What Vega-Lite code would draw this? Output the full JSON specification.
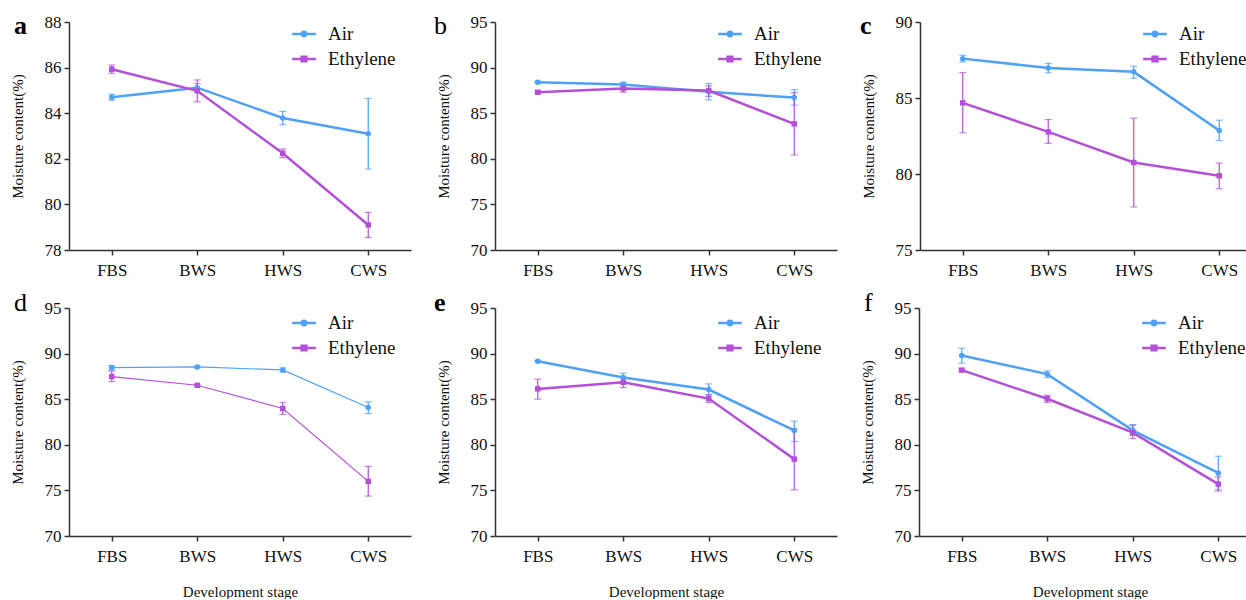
{
"$schema": "https://vega.github.io/schema/vega-lite/v6.json",
"padding": {"left": 10, "top": 13, "right": 0, "bottom": 0},
"config": {
 "font": "Liberation Serif",
 "view": {"stroke": null},
 "axis": {"domainColor": "#333", "domainWidth": 1.5, "tickColor": "#333", "tickWidth": 1.5, "tickSize": 5, "labelFontSize": 17, "labelColor": "#111", "labelFont": "Liberation Serif", "titleFont": "Liberation Serif", "titleFontSize": 15, "titleFontWeight": "normal", "titleColor": "#111", "grid": false},
 "axisY": {"labelPadding": 3, "titlePadding": 19},
 "axisX": {"labelPadding": 7, "titlePadding": 20, "labelAngle": 0},
 "legend": {"labelFont": "Liberation Serif", "labelFontSize": 19, "labelColor": "#111", "symbolSize": 462, "labelOffset": 12, "rowPadding": 3, "padding": 0, "orient": "none", "legendX": 223},
 "title": {"font": "Liberation Serif", "fontSize": 26, "anchor": "start", "frame": "group", "align": "left", "baseline": "alphabetic", "offset": 0, "color": "#000"}
},
"data": {"values": [
{"p":"a","s":"Air","stage":"FBS","m":84.70,"lo":84.57,"hi":84.83},
{"p":"a","s":"Air","stage":"BWS","m":85.12,"lo":84.95,"hi":85.30},
{"p":"a","s":"Air","stage":"HWS","m":83.79,"lo":83.50,"hi":84.08},
{"p":"a","s":"Air","stage":"CWS","m":83.10,"lo":81.55,"hi":84.65},
{"p":"a","s":"Ethylene","stage":"FBS","m":85.93,"lo":85.75,"hi":86.11},
{"p":"a","s":"Ethylene","stage":"BWS","m":84.98,"lo":84.50,"hi":85.46},
{"p":"a","s":"Ethylene","stage":"HWS","m":82.24,"lo":82.05,"hi":82.43},
{"p":"a","s":"Ethylene","stage":"CWS","m":79.10,"lo":78.55,"hi":79.65},
{"p":"b","s":"Air","stage":"FBS","m":88.39,"lo":88.29,"hi":88.49},
{"p":"b","s":"Air","stage":"BWS","m":88.14,"lo":87.87,"hi":88.41},
{"p":"b","s":"Air","stage":"HWS","m":87.34,"lo":86.45,"hi":88.25},
{"p":"b","s":"Air","stage":"CWS","m":86.72,"lo":85.88,"hi":87.59},
{"p":"b","s":"Ethylene","stage":"FBS","m":87.30,"lo":87.15,"hi":87.45},
{"p":"b","s":"Ethylene","stage":"BWS","m":87.70,"lo":87.30,"hi":88.10},
{"p":"b","s":"Ethylene","stage":"HWS","m":87.48,"lo":86.85,"hi":88.00},
{"p":"b","s":"Ethylene","stage":"CWS","m":83.83,"lo":80.42,"hi":87.25},
{"p":"c","s":"Air","stage":"FBS","m":87.59,"lo":87.37,"hi":87.81},
{"p":"c","s":"Air","stage":"BWS","m":86.98,"lo":86.65,"hi":87.28},
{"p":"c","s":"Air","stage":"HWS","m":86.72,"lo":86.30,"hi":87.09},
{"p":"c","s":"Air","stage":"CWS","m":82.86,"lo":82.20,"hi":83.54},
{"p":"c","s":"Ethylene","stage":"FBS","m":84.68,"lo":82.71,"hi":86.67},
{"p":"c","s":"Ethylene","stage":"BWS","m":82.77,"lo":82.01,"hi":83.58},
{"p":"c","s":"Ethylene","stage":"HWS","m":80.76,"lo":77.83,"hi":83.67},
{"p":"c","s":"Ethylene","stage":"CWS","m":79.88,"lo":79.03,"hi":80.72},
{"p":"d","s":"Air","stage":"FBS","m":88.47,"lo":88.21,"hi":88.69},
{"p":"d","s":"Air","stage":"BWS","m":88.54,"lo":88.44,"hi":88.64},
{"p":"d","s":"Air","stage":"HWS","m":88.21,"lo":87.96,"hi":88.43},
{"p":"d","s":"Air","stage":"CWS","m":84.09,"lo":83.43,"hi":84.71},
{"p":"d","s":"Ethylene","stage":"FBS","m":87.48,"lo":86.93,"hi":88.10},
{"p":"d","s":"Ethylene","stage":"BWS","m":86.53,"lo":86.43,"hi":86.63},
{"p":"d","s":"Ethylene","stage":"HWS","m":83.98,"lo":83.32,"hi":84.64},
{"p":"d","s":"Ethylene","stage":"CWS","m":75.99,"lo":74.38,"hi":77.63},
{"p":"e","s":"Air","stage":"FBS","m":89.16,"lo":89.06,"hi":89.26},
{"p":"e","s":"Air","stage":"BWS","m":87.37,"lo":86.95,"hi":87.85},
{"p":"e","s":"Air","stage":"HWS","m":86.06,"lo":85.51,"hi":86.68},
{"p":"e","s":"Air","stage":"CWS","m":81.57,"lo":80.36,"hi":82.59},
{"p":"e","s":"Ethylene","stage":"FBS","m":86.13,"lo":85.00,"hi":87.19},
{"p":"e","s":"Ethylene","stage":"BWS","m":86.86,"lo":86.28,"hi":87.37},
{"p":"e","s":"Ethylene","stage":"HWS","m":85.07,"lo":84.64,"hi":85.47},
{"p":"e","s":"Ethylene","stage":"CWS","m":78.43,"lo":75.07,"hi":81.75},
{"p":"f","s":"Air","stage":"FBS","m":89.79,"lo":88.95,"hi":90.59},
{"p":"f","s":"Air","stage":"BWS","m":87.75,"lo":87.38,"hi":88.11},
{"p":"f","s":"Air","stage":"HWS","m":81.59,"lo":81.04,"hi":82.21},
{"p":"f","s":"Air","stage":"CWS","m":76.92,"lo":75.10,"hi":78.75},
{"p":"f","s":"Ethylene","stage":"FBS","m":88.19,"lo":88.04,"hi":88.34},
{"p":"f","s":"Ethylene","stage":"BWS","m":85.05,"lo":84.65,"hi":85.42},
{"p":"f","s":"Ethylene","stage":"HWS","m":81.33,"lo":80.68,"hi":82.14},
{"p":"f","s":"Ethylene","stage":"CWS","m":75.69,"lo":74.92,"hi":76.49}
]},
"resolve": {"scale": {"color": "independent"}, "legend": {"color": "independent"}},
"spacing": 12,
"vconcat": [
{"hconcat": [
 {"width": 342, "height": 228, "title": {"text": "a", "dx": -55, "dy": 30, "fontWeight": "bold"},
  "transform": [{"filter": "datum.p === 'a'"}],
  "encoding": {"x": {"field": "stage", "type": "ordinal", "title": null, "scale": {"type": "point", "padding": 0.5, "domain": ["FBS","BWS","HWS","CWS"]}}},
  "layer": [
   {"mark": {"type": "errorbar", "ticks": true, "size": 7, "thickness": 1.2}, "encoding": {"y": {"field": "lo", "type": "quantitative", "title": "Moisture content(%)", "scale": {"domain": [78, 88], "nice": false, "zero": false}, "axis": {"values": [78,80,82,84,86,88]}}, "y2": {"field": "hi"}, "color": {"field": "s", "type": "nominal", "scale": {"domain": ["Air","Ethylene"], "range": ["#4ea1f7","#b450d8"]}}}},
   {"mark": {"type": "line", "strokeWidth": 2.5}, "encoding": {"y": {"field": "m", "type": "quantitative", "title": "Moisture content(%)", "scale": {"domain": [78, 88], "nice": false, "zero": false}}, "color": {"field": "s", "type": "nominal", "scale": {"domain": ["Air","Ethylene"], "range": ["#4ea1f7","#b450d8"]}, "legend": {"title": null, "legendY": 0, "encode": {"labels": {"update": {"font": {"value": "Liberation Serif"}}}, "symbols": {"update": {"shape": {"signal": "datum.value === 'Air' ? 'M-1.1,0H1.1M-0.2,0A0.2,0.2,0,1,0,0.2,0A0.2,0.2,0,1,0,-0.2,0Z' : 'M-1.1,0H1.1M-0.22,-0.22H0.22V0.22H-0.22Z'"}, "fill": {"signal": "datum.value === 'Air' ? '#4ea1f7' : '#b450d8'"}, "stroke": {"signal": "datum.value === 'Air' ? '#4ea1f7' : '#b450d8'"}, "strokeWidth": {"value": 2.5}, "opacity": {"value": 1}}}}}}}},
   {"mark": {"type": "point", "filled": true, "opacity": 1, "size": 30}, "encoding": {"y": {"field": "m", "type": "quantitative", "title": "Moisture content(%)", "scale": {"domain": [78, 88], "nice": false, "zero": false}}, "color": {"field": "s", "type": "nominal", "scale": {"domain": ["Air","Ethylene"], "range": ["#4ea1f7","#b450d8"]}}, "shape": {"condition": {"test": "datum.s === 'Air'", "value": "circle"}, "value": "square"}}}
  ]},
 {"width": 342, "height": 228, "title": {"text": "b", "dx": -61, "dy": 30, "fontWeight": "normal"},
  "transform": [{"filter": "datum.p === 'b'"}],
  "encoding": {"x": {"field": "stage", "type": "ordinal", "title": null, "scale": {"type": "point", "padding": 0.5, "domain": ["FBS","BWS","HWS","CWS"]}}},
  "layer": [
   {"mark": {"type": "errorbar", "ticks": true, "size": 7, "thickness": 1.2}, "encoding": {"y": {"field": "lo", "type": "quantitative", "title": "Moisture content(%)", "scale": {"domain": [70, 95], "nice": false, "zero": false}, "axis": {"values": [70,75,80,85,90,95]}}, "y2": {"field": "hi"}, "color": {"field": "s", "type": "nominal", "scale": {"domain": ["Air","Ethylene"], "range": ["#4ea1f7","#b450d8"]}}}},
   {"mark": {"type": "line", "strokeWidth": 2.5}, "encoding": {"y": {"field": "m", "type": "quantitative", "title": "Moisture content(%)", "scale": {"domain": [70, 95], "nice": false, "zero": false}}, "color": {"field": "s", "type": "nominal", "scale": {"domain": ["Air","Ethylene"], "range": ["#4ea1f7","#b450d8"]}, "legend": {"title": null, "legendY": 0, "encode": {"labels": {"update": {"font": {"value": "Liberation Serif"}}}, "symbols": {"update": {"shape": {"signal": "datum.value === 'Air' ? 'M-1.1,0H1.1M-0.2,0A0.2,0.2,0,1,0,0.2,0A0.2,0.2,0,1,0,-0.2,0Z' : 'M-1.1,0H1.1M-0.22,-0.22H0.22V0.22H-0.22Z'"}, "fill": {"signal": "datum.value === 'Air' ? '#4ea1f7' : '#b450d8'"}, "stroke": {"signal": "datum.value === 'Air' ? '#4ea1f7' : '#b450d8'"}, "strokeWidth": {"value": 2.5}, "opacity": {"value": 1}}}}}}}},
   {"mark": {"type": "point", "filled": true, "opacity": 1, "size": 30}, "encoding": {"y": {"field": "m", "type": "quantitative", "title": "Moisture content(%)", "scale": {"domain": [70, 95], "nice": false, "zero": false}}, "color": {"field": "s", "type": "nominal", "scale": {"domain": ["Air","Ethylene"], "range": ["#4ea1f7","#b450d8"]}}, "shape": {"condition": {"test": "datum.s === 'Air'", "value": "circle"}, "value": "square"}}}
  ]},
 {"width": 342, "height": 228, "title": {"text": "c", "dx": -60, "dy": 30, "fontWeight": "bold"},
  "transform": [{"filter": "datum.p === 'c'"}],
  "encoding": {"x": {"field": "stage", "type": "ordinal", "title": null, "scale": {"type": "point", "padding": 0.5, "domain": ["FBS","BWS","HWS","CWS"]}}},
  "layer": [
   {"mark": {"type": "errorbar", "ticks": true, "size": 7, "thickness": 1.2}, "encoding": {"y": {"field": "lo", "type": "quantitative", "title": "Moisture content(%)", "scale": {"domain": [75, 90], "nice": false, "zero": false}, "axis": {"values": [75,80,85,90]}}, "y2": {"field": "hi"}, "color": {"field": "s", "type": "nominal", "scale": {"domain": ["Air","Ethylene"], "range": ["#4ea1f7","#b450d8"]}}}},
   {"mark": {"type": "line", "strokeWidth": 2.5}, "encoding": {"y": {"field": "m", "type": "quantitative", "title": "Moisture content(%)", "scale": {"domain": [75, 90], "nice": false, "zero": false}}, "color": {"field": "s", "type": "nominal", "scale": {"domain": ["Air","Ethylene"], "range": ["#4ea1f7","#b450d8"]}, "legend": {"title": null, "legendY": 0, "encode": {"labels": {"update": {"font": {"value": "Liberation Serif"}}}, "symbols": {"update": {"shape": {"signal": "datum.value === 'Air' ? 'M-1.1,0H1.1M-0.2,0A0.2,0.2,0,1,0,0.2,0A0.2,0.2,0,1,0,-0.2,0Z' : 'M-1.1,0H1.1M-0.22,-0.22H0.22V0.22H-0.22Z'"}, "fill": {"signal": "datum.value === 'Air' ? '#4ea1f7' : '#b450d8'"}, "stroke": {"signal": "datum.value === 'Air' ? '#4ea1f7' : '#b450d8'"}, "strokeWidth": {"value": 2.5}, "opacity": {"value": 1}}}}}}}},
   {"mark": {"type": "point", "filled": true, "opacity": 1, "size": 30}, "encoding": {"y": {"field": "m", "type": "quantitative", "title": "Moisture content(%)", "scale": {"domain": [75, 90], "nice": false, "zero": false}}, "color": {"field": "s", "type": "nominal", "scale": {"domain": ["Air","Ethylene"], "range": ["#4ea1f7","#b450d8"]}}, "shape": {"condition": {"test": "datum.s === 'Air'", "value": "circle"}, "value": "square"}}}
  ]}
], "spacing": 23, "resolve": {"scale": {"color": "independent"}, "legend": {"color": "independent"}}},
{"hconcat": [
 {"width": 342, "height": 228, "title": {"text": "d", "dx": -55, "dy": 21, "fontWeight": "normal"},
  "transform": [{"filter": "datum.p === 'd'"}],
  "encoding": {"x": {"field": "stage", "type": "ordinal", "title": "Development stage", "scale": {"type": "point", "padding": 0.5, "domain": ["FBS","BWS","HWS","CWS"]}}},
  "layer": [
   {"mark": {"type": "errorbar", "ticks": true, "size": 7, "thickness": 1.2}, "encoding": {"y": {"field": "lo", "type": "quantitative", "title": "Moisture content(%)", "scale": {"domain": [70, 95], "nice": false, "zero": false}, "axis": {"values": [70,75,80,85,90,95]}}, "y2": {"field": "hi"}, "color": {"field": "s", "type": "nominal", "scale": {"domain": ["Air","Ethylene"], "range": ["#4ea1f7","#b450d8"]}}}},
   {"mark": {"type": "line", "strokeWidth": 1.2}, "encoding": {"y": {"field": "m", "type": "quantitative", "title": "Moisture content(%)", "scale": {"domain": [70, 95], "nice": false, "zero": false}}, "color": {"field": "s", "type": "nominal", "scale": {"domain": ["Air","Ethylene"], "range": ["#4ea1f7","#b450d8"]}, "legend": {"title": null, "legendY": 3, "encode": {"labels": {"update": {"font": {"value": "Liberation Serif"}}}, "symbols": {"update": {"shape": {"signal": "datum.value === 'Air' ? 'M-1.1,0H1.1M-0.2,0A0.2,0.2,0,1,0,0.2,0A0.2,0.2,0,1,0,-0.2,0Z' : 'M-1.1,0H1.1M-0.22,-0.22H0.22V0.22H-0.22Z'"}, "fill": {"signal": "datum.value === 'Air' ? '#4ea1f7' : '#b450d8'"}, "stroke": {"signal": "datum.value === 'Air' ? '#4ea1f7' : '#b450d8'"}, "strokeWidth": {"value": 2.5}, "opacity": {"value": 1}}}}}}}},
   {"mark": {"type": "point", "filled": true, "opacity": 1, "size": 30}, "encoding": {"y": {"field": "m", "type": "quantitative", "title": "Moisture content(%)", "scale": {"domain": [70, 95], "nice": false, "zero": false}}, "color": {"field": "s", "type": "nominal", "scale": {"domain": ["Air","Ethylene"], "range": ["#4ea1f7","#b450d8"]}}, "shape": {"condition": {"test": "datum.s === 'Air'", "value": "circle"}, "value": "square"}}}
  ]},
 {"width": 342, "height": 228, "title": {"text": "e", "dx": -61, "dy": 21, "fontWeight": "bold"},
  "transform": [{"filter": "datum.p === 'e'"}],
  "encoding": {"x": {"field": "stage", "type": "ordinal", "title": "Development stage", "scale": {"type": "point", "padding": 0.5, "domain": ["FBS","BWS","HWS","CWS"]}}},
  "layer": [
   {"mark": {"type": "errorbar", "ticks": true, "size": 7, "thickness": 1.2}, "encoding": {"y": {"field": "lo", "type": "quantitative", "title": "Moisture content(%)", "scale": {"domain": [70, 95], "nice": false, "zero": false}, "axis": {"values": [70,75,80,85,90,95]}}, "y2": {"field": "hi"}, "color": {"field": "s", "type": "nominal", "scale": {"domain": ["Air","Ethylene"], "range": ["#4ea1f7","#b450d8"]}}}},
   {"mark": {"type": "line", "strokeWidth": 2.5}, "encoding": {"y": {"field": "m", "type": "quantitative", "title": "Moisture content(%)", "scale": {"domain": [70, 95], "nice": false, "zero": false}}, "color": {"field": "s", "type": "nominal", "scale": {"domain": ["Air","Ethylene"], "range": ["#4ea1f7","#b450d8"]}, "legend": {"title": null, "legendY": 3, "encode": {"labels": {"update": {"font": {"value": "Liberation Serif"}}}, "symbols": {"update": {"shape": {"signal": "datum.value === 'Air' ? 'M-1.1,0H1.1M-0.2,0A0.2,0.2,0,1,0,0.2,0A0.2,0.2,0,1,0,-0.2,0Z' : 'M-1.1,0H1.1M-0.22,-0.22H0.22V0.22H-0.22Z'"}, "fill": {"signal": "datum.value === 'Air' ? '#4ea1f7' : '#b450d8'"}, "stroke": {"signal": "datum.value === 'Air' ? '#4ea1f7' : '#b450d8'"}, "strokeWidth": {"value": 2.5}, "opacity": {"value": 1}}}}}}}},
   {"mark": {"type": "point", "filled": true, "opacity": 1, "size": 30}, "encoding": {"y": {"field": "m", "type": "quantitative", "title": "Moisture content(%)", "scale": {"domain": [70, 95], "nice": false, "zero": false}}, "color": {"field": "s", "type": "nominal", "scale": {"domain": ["Air","Ethylene"], "range": ["#4ea1f7","#b450d8"]}}, "shape": {"condition": {"test": "datum.s === 'Air'", "value": "circle"}, "value": "square"}}}
  ]},
 {"width": 342, "height": 228, "title": {"text": "f", "dx": -55, "dy": 21, "fontWeight": "normal"},
  "transform": [{"filter": "datum.p === 'f'"}],
  "encoding": {"x": {"field": "stage", "type": "ordinal", "title": "Development stage", "scale": {"type": "point", "padding": 0.5, "domain": ["FBS","BWS","HWS","CWS"]}}},
  "layer": [
   {"mark": {"type": "errorbar", "ticks": true, "size": 7, "thickness": 1.2}, "encoding": {"y": {"field": "lo", "type": "quantitative", "title": "Moisture content(%)", "scale": {"domain": [70, 95], "nice": false, "zero": false}, "axis": {"values": [70,75,80,85,90,95]}}, "y2": {"field": "hi"}, "color": {"field": "s", "type": "nominal", "scale": {"domain": ["Air","Ethylene"], "range": ["#4ea1f7","#b450d8"]}}}},
   {"mark": {"type": "line", "strokeWidth": 2.5}, "encoding": {"y": {"field": "m", "type": "quantitative", "title": "Moisture content(%)", "scale": {"domain": [70, 95], "nice": false, "zero": false}}, "color": {"field": "s", "type": "nominal", "scale": {"domain": ["Air","Ethylene"], "range": ["#4ea1f7","#b450d8"]}, "legend": {"title": null, "legendY": 3, "encode": {"labels": {"update": {"font": {"value": "Liberation Serif"}}}, "symbols": {"update": {"shape": {"signal": "datum.value === 'Air' ? 'M-1.1,0H1.1M-0.2,0A0.2,0.2,0,1,0,0.2,0A0.2,0.2,0,1,0,-0.2,0Z' : 'M-1.1,0H1.1M-0.22,-0.22H0.22V0.22H-0.22Z'"}, "fill": {"signal": "datum.value === 'Air' ? '#4ea1f7' : '#b450d8'"}, "stroke": {"signal": "datum.value === 'Air' ? '#4ea1f7' : '#b450d8'"}, "strokeWidth": {"value": 2.5}, "opacity": {"value": 1}}}}}}}},
   {"mark": {"type": "point", "filled": true, "opacity": 1, "size": 30}, "encoding": {"y": {"field": "m", "type": "quantitative", "title": "Moisture content(%)", "scale": {"domain": [70, 95], "nice": false, "zero": false}}, "color": {"field": "s", "type": "nominal", "scale": {"domain": ["Air","Ethylene"], "range": ["#4ea1f7","#b450d8"]}}, "shape": {"condition": {"test": "datum.s === 'Air'", "value": "circle"}, "value": "square"}}}
  ]}
], "spacing": 23, "resolve": {"scale": {"color": "independent"}, "legend": {"color": "independent"}}}
]
}
